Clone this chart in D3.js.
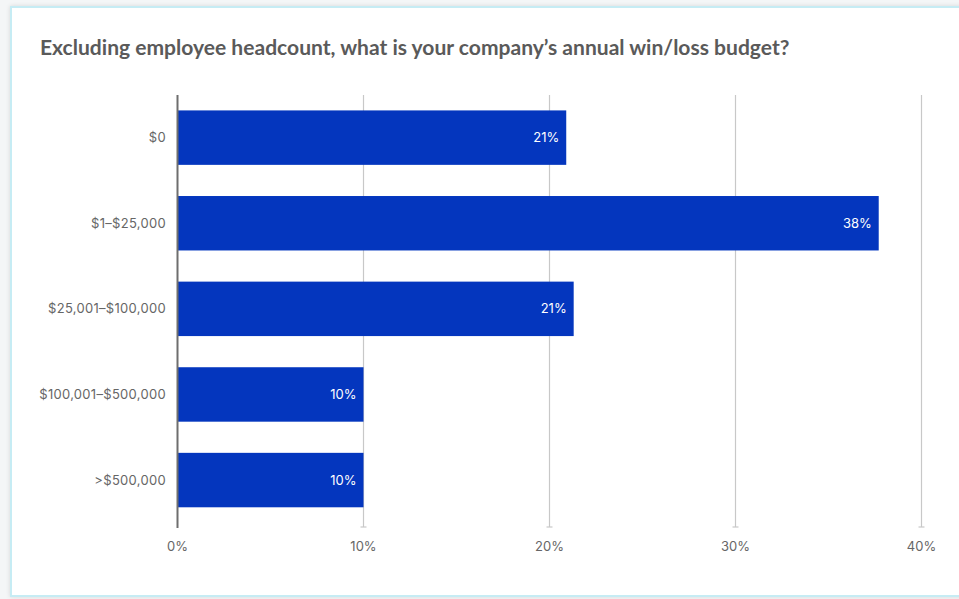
<!DOCTYPE html>
<html><head><meta charset="utf-8">
<script src="https://cdn.jsdelivr.net/npm/d3@7"></script>
<style>
html,body{margin:0;padding:0;background:#f4f6f7;overflow:hidden;}
svg{display:block;}
</style></head>
<body>
<script>
const categories = ["$0", "$1–$25,000", "$25,001–$100,000", "$100,001–$500,000", ">$500,000"];
const values = [20.9, 37.7, 21.3, 10.0, 10.0];
const valueLabels = ["21%", "38%", "21%", "10%", "10%"];
const xTicks = [0, 10, 20, 30, 40];
const title = "Excluding employee headcount, what is your company’s annual win/loss budget?";

const W = 959, H = 599;
const svg = d3.select("body").append("svg").attr("width", W).attr("height", H);

const defs = svg.append("defs");
const f = defs.append("filter").attr("id","sh").attr("x","-5%").attr("y","-5%").attr("width","110%").attr("height","110%");
f.append("feDropShadow").attr("dx",0).attr("dy",0).attr("stdDeviation",2).attr("flood-color","#000").attr("flood-opacity",0.12);

svg.append("rect").attr("x",11).attr("y",7).attr("width",990).attr("height",589)
  .attr("fill","#fff").attr("stroke","#c6ecf4").attr("stroke-width",2).attr("filter","url(#sh)");

const t = svg.append("text").attr("x",40).attr("y",55).text(title)
  .attr("font-family","Lato, sans-serif").attr("font-weight",700).attr("font-size",19).attr("fill","#5a5a5a");
const tw = t.node().getComputedTextLength();
if (tw > 0) t.attr("font-size", 19 * 750 / tw);

const x = d3.scaleLinear().domain([0, 40]).range([177.5, 921.5]);
const y = d3.scaleBand().domain(categories).range([95, 522.7]).paddingInner(0.364).paddingOuter(0.18);

// grid lines
const g = svg.append("g");
g.selectAll("line.grid").data(xTicks.filter(d => d > 0)).join("line")
  .attr("x1", d => x(d)).attr("x2", d => x(d)).attr("y1", 95).attr("y2", 527)
  .attr("stroke", "#c8c8c8").attr("stroke-width", 1.2);
g.selectAll("line.cap").data(xTicks.filter(d => d > 0)).join("line")
  .attr("x1", d => x(d) - 3).attr("x2", d => x(d) + 3).attr("y1", 527).attr("y2", 527)
  .attr("stroke", "#c8c8c8").attr("stroke-width", 1.2);

// bars
svg.append("g").selectAll("rect").data(categories).join("rect")
  .attr("x", x(0)).attr("y", d => y(d))
  .attr("width", (d, i) => x(values[i]) - x(0)).attr("height", y.bandwidth())
  .attr("fill", "#0436be");

svg.append("g").selectAll("text").data(categories).join("text")
  .attr("x", (d, i) => x(values[i]) - 7).attr("y", d => y(d) + y.bandwidth() / 2)
  .attr("dy", "0.35em").attr("text-anchor", "end")
  .attr("font-family", "Inter, sans-serif").attr("font-size", 13).attr("fill", "#fff")
  .text((d, i) => valueLabels[i]);

// axis line
svg.append("line").attr("x1", x(0)).attr("x2", x(0)).attr("y1", 95).attr("y2", 528)
  .attr("stroke", "#6e6e6e").attr("stroke-width", 2);

// y axis labels
svg.append("g").selectAll("text").data(categories).join("text")
  .attr("x", 166).attr("y", d => y(d) + y.bandwidth() / 2)
  .attr("dy", "0.35em").attr("text-anchor", "end")
  .attr("font-family", "Inter, sans-serif").attr("font-size", 13).attr("letter-spacing", 0.3).attr("fill", "#666")
  .text(d => d);

// x axis labels
svg.append("g").selectAll("text").data(xTicks).join("text")
  .attr("x", d => x(d)).attr("y", 546).attr("dy", "0.35em").attr("text-anchor", "middle")
  .attr("font-family", "Inter, sans-serif").attr("font-size", 13).attr("fill", "#666")
  .text(d => d + "%");
</script>
</body></html>
